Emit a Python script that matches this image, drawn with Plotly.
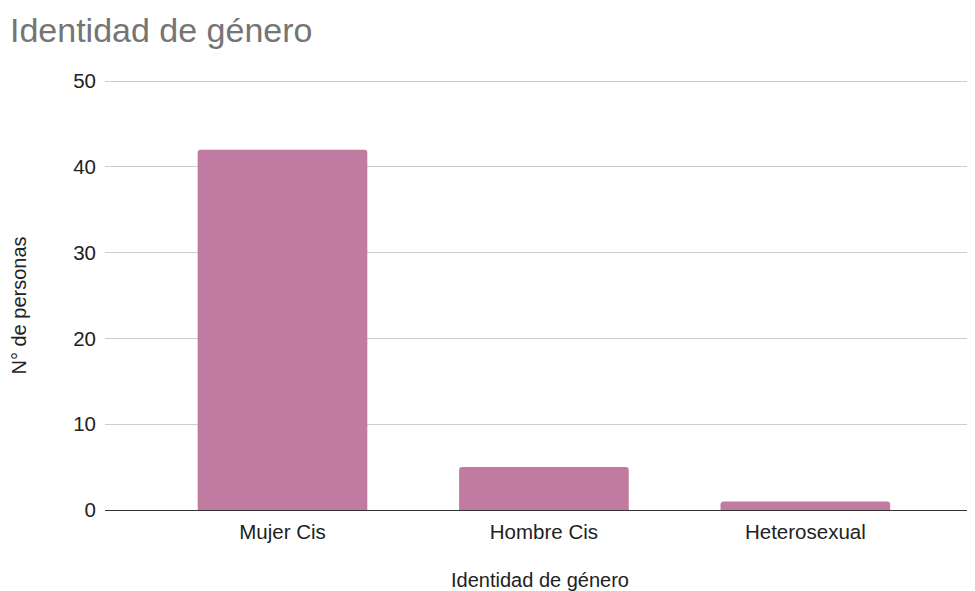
import plotly.graph_objects as go

categories = ["Mujer Cis", "Hombre Cis", "Heterosexual"]
values = [42, 5, 1]
y_ticks = [0, 10, 20, 30, 40, 50]

FONT = "Liberation Sans, Arial, sans-serif"

# page body adds an 8px margin; size the figure so it fits without scrollbars
W, H = 967, 583

fig = go.Figure(
    go.Bar(
        x=categories,
        y=values,
        marker=dict(color="#c27ba0", line=dict(width=0)),
        width=0.649,
    )
)

fig.update_layout(
    width=W,
    height=H,
    margin=dict(l=97, r=0, t=71, b=81),
    paper_bgcolor="white",
    plot_bgcolor="white",
    barcornerradius=3,
    showlegend=False,
    font=dict(family=FONT, size=20.5, color="#222222"),
    title=dict(
        text="Identidad de género",
        font=dict(family=FONT, size=34, color="#757575"),
        x=2 / W,
        xanchor="left",
        xref="container",
        y=1 - 22 / H,
        yanchor="middle",
        yref="container",
    ),
    xaxis=dict(
        type="category",
        range=[-0.679, 2.649],
        showgrid=False,
        showline=False,
        zeroline=False,
        ticks="",
        ticklabelstandoff=7,
        tickfont=dict(family=FONT, size=20.5, color="#222222"),
        title=dict(
            text="Identidad de género",
            font=dict(family=FONT, size=20, color="#222222"),
            standoff=31,
        ),
        automargin=False,
        fixedrange=True,
    ),
    yaxis=dict(
        range=[0, 50.233],
        tickvals=y_ticks,
        showgrid=True,
        gridcolor="#cccccc",
        gridwidth=1,
        zeroline=True,
        zerolinecolor="#333333",
        zerolinewidth=1,
        showline=False,
        ticks="",
        ticklabelstandoff=8,
        tickfont=dict(family=FONT, size=20.5, color="#222222"),
        automargin=False,
        fixedrange=True,
    ),
    annotations=[
        dict(
            text="N° de personas",
            textangle=-90,
            xref="paper",
            yref="paper",
            x=0,
            y=0.5,
            xanchor="center",
            yanchor="middle",
            xshift=-87,
            yshift=-11,
            showarrow=False,
            font=dict(family=FONT, size=20, color="#222222"),
        )
    ],
)

fig.write_html("out.html")
